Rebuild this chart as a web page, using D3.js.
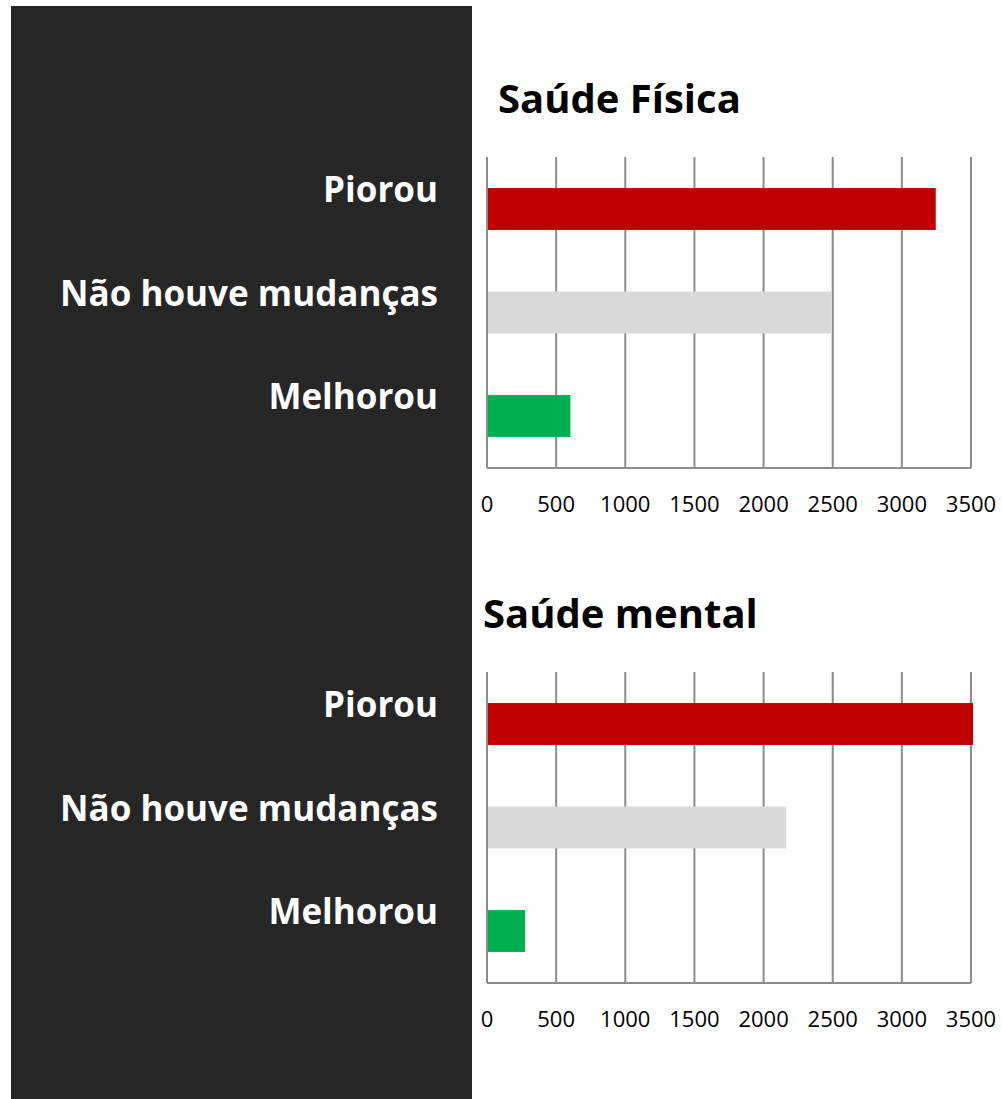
<!DOCTYPE html>
<html>
<head>
<meta charset="utf-8">
<script src="https://cdn.jsdelivr.net/npm/d3@7"></script>
<style>
  body { margin: 0; background: #fff; }
  svg { display: block; }
  text { font-family: "Open Sans", "Noto Sans", sans-serif; }
</style>
</head>
<body>
<div id="chart"></div>
<script>
var categories = ["Piorou", "Não houve mudanças", "Melhorou"];
var barColors = ["#c00000", "#d9d9d9", "#00b050"];
var fisicaValues = [3245, 2490, 603];
var mentalValues = [3515, 2164, 276];
var tickValues = [0, 500, 1000, 1500, 2000, 2500, 3000, 3500];
var titles = ["Saúde Física", "Saúde mental"];

var width = 1002, height = 1099;

var svg = d3.select("#chart").append("svg")
  .attr("width", width)
  .attr("height", height);

// dark panel behind the category labels
svg.append("rect")
  .attr("x", 11).attr("y", 6)
  .attr("width", 461).attr("height", height - 6)
  .style("fill", "#262626");

var x = d3.scaleLinear().domain([0, 3500]).range([487, 971]);

function drawChart(values, title, top, titleX) {
  var y = d3.scaleBand()
    .domain(categories)
    .range([top, top + 311])
    .paddingInner(0.595)
    .paddingOuter(0.3);

  var g = svg.append("g");

  // gridlines
  g.selectAll("line.grid")
    .data(tickValues)
    .enter()
    .append("line")
    .attr("class", "grid")
    .attr("x1", function(d) { return x(d); })
    .attr("x2", function(d) { return x(d); })
    .attr("y1", top)
    .attr("y2", top + 311)
    .style("stroke", "#8c8c8c")
    .style("stroke-width", 2);

  // bottom axis line
  g.append("line")
    .attr("x1", x(0)).attr("x2", x(3500))
    .attr("y1", top + 311).attr("y2", top + 311)
    .style("stroke", "#8c8c8c")
    .style("stroke-width", 2);

  g.selectAll("rect.bar")
    .data(values)
    .enter()
    .append("rect")
    .attr("class", "bar")
    .attr("x", x(0) + 1)
    .attr("y", function(d, i) { return y(categories[i]); })
    .attr("width", function(d) { return x(d) - x(0) - 1; })
    .attr("height", y.bandwidth())
    .style("fill", function(d, i) { return barColors[i]; });

  // tick labels
  g.selectAll("text.tick")
    .data(tickValues)
    .enter()
    .append("text")
    .attr("class", "tick")
    .attr("x", function(d) { return x(d); })
    .attr("y", top + 355)
    .style("text-anchor", "middle")
    .style("font-size", "22px")
    .style("fill", "#000")
    .text(function(d) { return d; });

  // category labels, on the dark panel
  g.selectAll("text.cat")
    .data(categories)
    .enter()
    .append("text")
    .attr("class", "cat")
    .attr("x", 438)
    .attr("y", function(d) { return y(d) + y.bandwidth() / 2 - 7; })
    .style("text-anchor", "end")
    .style("font-size", "35px")
    .style("font-weight", "bold")
    .style("fill", "#fff")
    .text(function(d) { return d; });

  g.append("text")
    .attr("x", titleX)
    .attr("y", top - 44)
    .style("font-size", "40px")
    .style("font-weight", "bold")
    .style("fill", "#000")
    .text(title);
}

drawChart(fisicaValues, titles[0], 157, 498);
drawChart(mentalValues, titles[1], 672, 483);
</script>
</body>
</html>
